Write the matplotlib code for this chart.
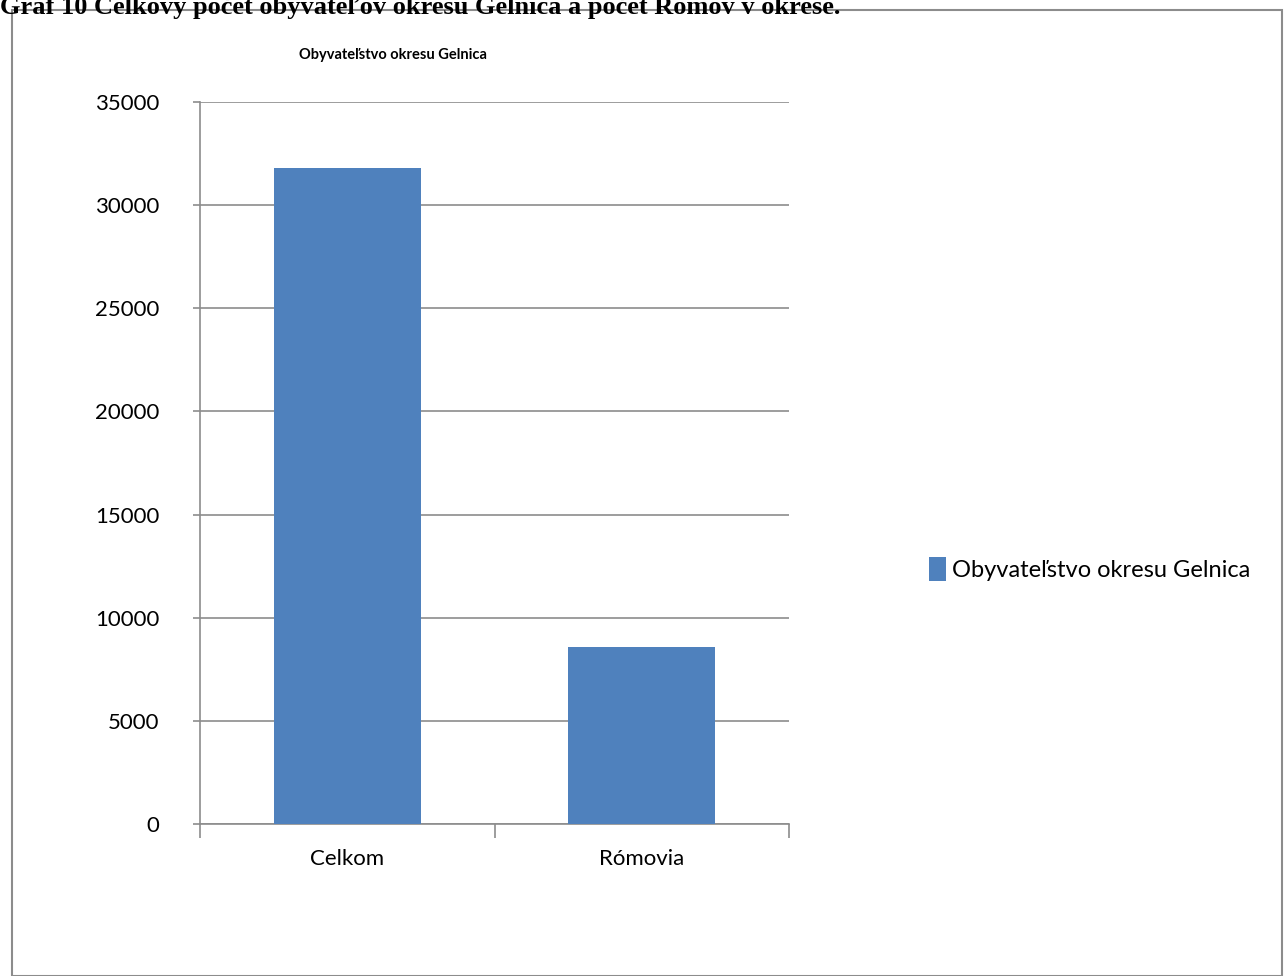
import matplotlib.pyplot as plt
import matplotlib.patches as patches
import numpy as np

categories = ['Celkom', 'Rómovia']
values = [31800, 8580]
series_name = 'Obyvateľstvo okresu Gelnica'
chart_title = 'Obyvateľstvo okresu Gelnica'
caption = 'Graf 10 Celkový počet obyvateľov okresu Gelnica a počet Rómov v okrese.'

W, H = 1284, 976
fig = plt.figure(figsize=(W/100, H/100), dpi=100)
plt.rcParams['font.family'] = ['Lato', 'DejaVu Sans']

# outer frame
fig.patches.append(patches.Rectangle((12/W, 0), (1282-12)/W, (H-10)/H, transform=fig.transFigure,
                                     fill=False, edgecolor='#8c8c8c', linewidth=1.5))

# caption, cut off at the top as in the source page
fig.text(0, 1 - 14/H, caption, family='Liberation Serif', weight='bold', fontsize=19,
         va='baseline', ha='left')

ax = fig.add_axes([200/W, 1 - 824/H, (789-200)/W, (824-102)/H])
x = np.arange(len(categories))
ax.bar(x, values, width=0.5, color='#4f81bd', label=series_name, zorder=3)
ax.set_xlim(-0.5, 1.5)
ax.set_ylim(0, 35000)
ax.set_yticks(np.arange(0, 35001, 5000))
ax.set_yticklabels([str(v) for v in range(0, 35001, 5000)], fontsize=16)
ax.set_xticks(x)
ax.set_xticklabels(categories, fontsize=16)
ax.tick_params(axis='x', length=0, pad=18)
ax.set_xticks([-0.5, 0.5, 1.5], minor=True)
ax.tick_params(axis='x', which='minor', length=10, width=1.2, color='#8c8c8c')
ax.tick_params(axis='y', length=5, width=1.2, color='#8c8c8c', pad=24)
ax.grid(axis='y', color='#8c8c8c', linewidth=1.2, zorder=0)
for s in ['top', 'right']:
    ax.spines[s].set_visible(False)
for s in ['left', 'bottom']:
    ax.spines[s].set_color('#8c8c8c')
    ax.spines[s].set_linewidth(1.2)

fig.text(393/W, 1 - 55/H, chart_title, fontsize=10.5, weight='bold', ha='center', va='center')

ax.legend(loc='center left', bbox_to_anchor=(912/W, 1 - 569/H), bbox_transform=fig.transFigure,
          frameon=False, fontsize=17, handlelength=0.76, handleheight=1.2, handletextpad=0.25,
          borderpad=0.2)

fig.savefig('out.png', dpi=100)
